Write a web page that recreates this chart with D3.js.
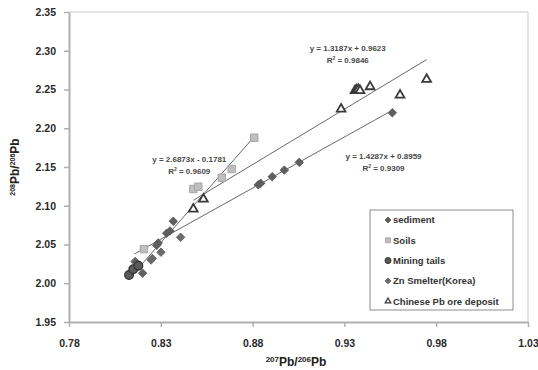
<!DOCTYPE html>
<html>
<head>
<meta charset="utf-8">
<script src="https://cdn.jsdelivr.net/npm/d3@7"></script>
<style>
  body { margin: 0; background: #fff; }
  text { font-family: "Liberation Sans", Arial, sans-serif; font-weight: bold; }
</style>
</head>
<body>
<div id="chart"></div>
<script>
// series values [207Pb/206Pb, 208Pb/206Pb]
const sediment = [
  [0.816, 2.028], [0.8201, 2.013], [0.8278, 2.049], [0.8286, 2.052], [0.8332, 2.0645],
  [0.835, 2.0675], [0.8368, 2.080], [0.8831, 2.127], [0.8844, 2.129], [0.8907, 2.1375],
  [0.8973, 2.146], [0.9054, 2.156], [0.9561, 2.220]
]
const soils = [
  [0.8208, 2.044], [0.8477, 2.1216], [0.8504, 2.1246], [0.8632, 2.1362],
  [0.8686, 2.1474], [0.8809, 2.1878]
]
const miningTails = [[0.8127, 2.0106], [0.815, 2.018], [0.8178, 2.0227]]
const znSmelter = [[0.8247, 2.030], [0.8254, 2.032], [0.8301, 2.040], [0.8408, 2.0593]]
const chinesePb = [
  [0.8477, 2.0958], [0.8532, 2.1087], [0.9282, 2.2248], [0.9358, 2.2487], [0.9366, 2.2494],
  [0.9376, 2.2503], [0.9385, 2.2487], [0.944, 2.2536], [0.9603, 2.2429], [0.9748, 2.2632]
]

// trend lines: slope, intercept, x range
const trendSlopes = [2.6873, 1.4287, 1.3187]
const trendIntercepts = [-0.1781, 0.8959, 0.9623]
const trendFrom = [0.8127, 0.8477, 0.8156]
const trendTo = [0.8809, 0.9748, 0.9561]

const xTicks = [0.78, 0.83, 0.88, 0.93, 0.98, 1.03]
const yTicks = [1.95, 2.00, 2.05, 2.10, 2.15, 2.20, 2.25, 2.30, 2.35]

const legendNames = ['sediment', 'Soils', 'Mining tails', 'Zn Smelter(Korea)', 'Chinese Pb ore deposit']

const W = 538, H = 370
const margin = { top: 12, right: 10, bottom: 48, left: 69 }
const width = W - margin.left - margin.right
const height = H - margin.top - margin.bottom

const svg = d3.select('#chart').append('svg')
  .attr('width', W).attr('height', H)

const g = svg.append('g')
  .attr('transform', 'translate(' + margin.left + ',' + margin.top + ')')

const x = d3.scaleLinear().domain([0.78, 1.03]).range([0, width])
const y = d3.scaleLinear().domain([1.95, 2.35]).range([height, 0])

// plot frame (top and right)
g.append('path')
  .attr('d', 'M0,0H' + width + 'V' + height)
  .attr('fill', 'none').attr('stroke', '#c8c8c8').attr('stroke-width', 1)

const xAxis = g.append('g')
  .attr('transform', 'translate(0,' + height + ')')
  .call(d3.axisBottom(x).tickValues(xTicks).tickFormat(d3.format('.2f'))
    .tickSize(5).tickSizeOuter(0).tickPadding(13))
const yAxis = g.append('g')
  .call(d3.axisLeft(y).tickValues(yTicks).tickFormat(d3.format('.2f'))
    .tickSize(5).tickSizeOuter(0).tickPadding(8))

for (const a of [xAxis, yAxis]) {
  a.select('.domain').attr('stroke', '#b0b0b0').attr('stroke-width', 2)
  a.selectAll('.tick line').attr('stroke', '#b0b0b0').attr('stroke-width', 1.5)
  a.selectAll('.tick text').attr('fill', '#2a2a2a').style('font-size', '10.5px')
    .style('font-family', '"Liberation Sans", Arial, sans-serif').style('font-weight', 'bold')
}

// trend lines
const trends = trendSlopes.map((m, i) => [
  [trendFrom[i], m * trendFrom[i] + trendIntercepts[i]],
  [trendTo[i], m * trendTo[i] + trendIntercepts[i]]
])
g.selectAll('.trend').data(trends).enter().append('line')
  .attr('class', 'trend')
  .attr('x1', d => x(d[0][0])).attr('y1', d => y(d[0][1]))
  .attr('x2', d => x(d[1][0])).attr('y2', d => y(d[1][1]))
  .attr('stroke', '#6a6a6a').attr('stroke-width', 1)

// markers
const diamond = d3.symbol().type(d3.symbolDiamond2).size(45)
const square = d3.symbol().type(d3.symbolSquare2).size(70)
const circle = d3.symbol().type(d3.symbolCircle).size(60)
const triangle = d3.symbol().type(d3.symbolTriangle2).size(55)

function drawSeries(data, sym, fill, stroke, sw) {
  g.append('g').selectAll('path').data(data).enter().append('path')
    .attr('d', sym)
    .attr('transform', d => 'translate(' + x(d[0]) + ',' + y(d[1]) + ')')
    .attr('fill', fill).attr('stroke', stroke).attr('stroke-width', sw)
}
drawSeries(soils, square, '#bfbfbf', '#a6a6a6', 1)
drawSeries(znSmelter, diamond, '#6b6b6b', '#6b6b6b', 1)
drawSeries(sediment, diamond, '#5e5e5e', '#5e5e5e', 1)
drawSeries(miningTails, circle, '#5a5a5a', '#333', 1.2)
drawSeries(chinesePb, triangle, '#fff', '#3a3a3a', 1.8)

// equation labels
const eqLabels = [
  { eq: 'y = 2.6873x - 0.1781', r2: '0.9609', x: 0.8455, y: 2.1565 },
  { eq: 'y = 1.3187x + 0.9623', r2: '0.9846', x: 0.9318, y: 2.2993 },
  { eq: 'y = 1.4287x + 0.8959', r2: '0.9309', x: 0.9513, y: 2.1597 }
]
eqLabels.forEach(l => {
  const t = g.append('text').attr('text-anchor', 'middle')
    .attr('x', x(l.x)).attr('y', y(l.y))
    .attr('fill', '#484848').style('font-size', '8px')
  t.append('tspan').attr('x', x(l.x)).text(l.eq)
  const t2 = g.append('text').attr('text-anchor', 'middle')
    .attr('x', x(l.x)).attr('y', y(l.y) + 12)
    .attr('fill', '#484848').style('font-size', '8px')
  t2.append('tspan').text('R')
  t2.append('tspan').text('2').attr('dy', -3).style('font-size', '5px')
  t2.append('tspan').attr('dy', 3).text(' = ' + l.r2)
})

// axis titles
const xt = svg.append('text').attr('text-anchor', 'middle')
  .attr('x', 296).attr('y', 366).attr('fill', '#222').style('font-size', '12px')
xt.append('tspan').text('207').attr('dy', -4).style('font-size', '8px')
xt.append('tspan').text('Pb/').attr('dy', 4)
xt.append('tspan').text('206').attr('dy', -4).style('font-size', '8px')
xt.append('tspan').text('Pb').attr('dy', 4)

const yt = svg.append('text').attr('text-anchor', 'middle')
  .attr('transform', 'translate(19,167) rotate(-90)')
  .attr('fill', '#222').style('font-size', '12px')
yt.append('tspan').text('208').attr('dy', -4).style('font-size', '7px')
yt.append('tspan').text('Pb/').attr('dy', 4)
yt.append('tspan').text('206').attr('dy', -4).style('font-size', '7px')
yt.append('tspan').text('Pb').attr('dy', 4)

// legend
const lg = svg.append('g').attr('transform', 'translate(370,210)')
lg.append('rect').attr('width', 143).attr('height', 100)
  .attr('fill', '#fff').attr('stroke', '#8c8c8c')
const legSyms = [
  { sym: d3.symbol().type(d3.symbolDiamond2).size(22), fill: '#5e5e5e', stroke: '#5e5e5e', sw: 1 },
  { sym: d3.symbol().type(d3.symbolSquare2).size(30), fill: '#bfbfbf', stroke: '#a6a6a6', sw: 1 },
  { sym: d3.symbol().type(d3.symbolCircle).size(28), fill: '#5a5a5a', stroke: '#333', sw: 1 },
  { sym: d3.symbol().type(d3.symbolDiamond2).size(22), fill: '#6b6b6b', stroke: '#6b6b6b', sw: 1 },
  { sym: d3.symbol().type(d3.symbolTriangle2).size(22), fill: '#fff', stroke: '#3a3a3a', sw: 1.3 }
]
const item = lg.selectAll('.item').data(legendNames).enter().append('g')
  .attr('transform', (d, i) => 'translate(0,' + (10 + i * 20.3) + ')')
item.append('path')
  .attr('d', (d, i) => legSyms[i].sym())
  .attr('transform', 'translate(18,0)')
  .attr('fill', (d, i) => legSyms[i].fill)
  .attr('stroke', (d, i) => legSyms[i].stroke)
  .attr('stroke-width', (d, i) => legSyms[i].sw)
item.append('text').attr('x', 23).attr('dy', '0.35em')
  .attr('fill', '#333').style('font-size', '9.5px').text(d => d)
</script>
</body>
</html>
